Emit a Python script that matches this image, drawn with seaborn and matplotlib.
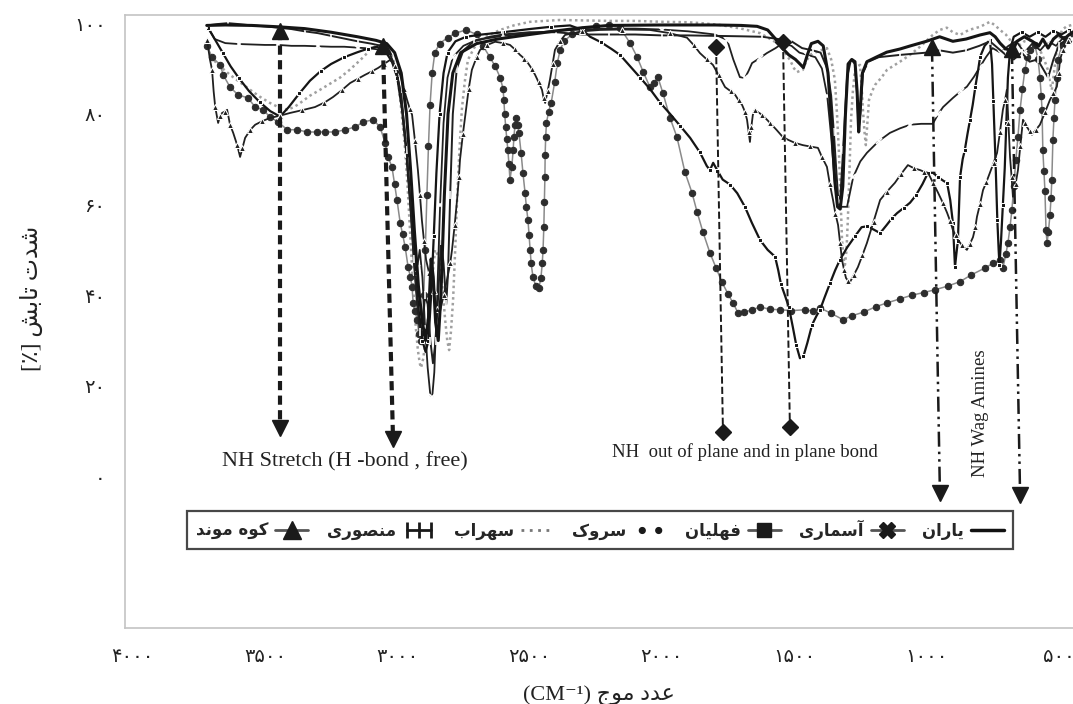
import matplotlib
matplotlib.use("Agg")
import matplotlib.pyplot as plt
import seaborn as sns
import pandas as pd
from matplotlib.lines import Line2D
from matplotlib.legend_handler import HandlerLine2D

# ---------------- data (wavenumber cm-1, transmittance %) ----------------
yaran = [(3720,99.5),(3650,99.6),(3550,99.5),(3450,99.2),(3350,98.8),(3250,98),(3150,97),(3080,96.2),(3040,95.5),(3010,93.5),(2985,89),(2965,80),(2950,68),(2935,54),(2920,42),(2905,34),(2893,30),(2882,35),(2872,48),(2864,44),(2855,34),(2845,30),(2835,40),(2822,62),(2808,80),(2790,89),(2760,93.5),(2700,95.5),(2620,96.5),(2500,97.5),(2400,98.3),(2300,99),(2200,99.5),(2000,99.6),(1800,99.6),(1700,99.5),(1640,99.3),(1600,98.5),(1570,96.5),(1545,94.5),(1520,93),(1495,92),(1478,91),(1465,90.2),(1450,93),(1435,95.5),(1410,96),(1390,95),(1372,89),(1358,77),(1346,65),(1336,59.5),(1326,59),(1316,64),(1306,80),(1296,91),(1282,92),(1270,91.5),(1262,85),(1256,76),(1250,81),(1242,89),(1225,91.5),(1190,92.5),(1150,93.6),(1100,94.3),(1060,95),(1000,96),(950,97),(900,96),(850,96.5),(797,97.4),(760,97.9),(740,97),(722,95.6),(700,94.3),(673,94),(658,96),(630,97),(600,96),(575,95),(560,96.5),(540,94.5),(520,96.5),(500,97.5),(480,96.5),(460,97.5),(447,98)]

asmari = [(3715,99),(3690,96.5),(3650,95.6),(3600,95.4),(3550,95.3),(3500,95.2),(3450,95.2),(3400,95),(3350,95),(3300,94.9),(3250,94.8),(3200,94.8),(3150,94.6),(3100,94.4),(3070,94.2),(3030,93),(3005,90),(2985,84),(2968,74),(2952,62),(2938,52),(2925,46),(2915,50),(2905,44),(2895,33),(2885,24),(2875,18),(2868,17.5),(2860,23),(2850,38),(2838,60),(2825,78),(2810,88),(2790,92.5),(2750,95),(2700,96.3),(2600,97.2),(2500,97.8),(2400,98.3),(2300,98.6),(2200,98.8),(2100,98.8),(2000,98.6),(1900,98.2),(1800,97.5),(1753,96.3),(1730,92),(1705,88.1),(1686,87.9),(1672,89.5),(1659,91.2),(1630,92.3),(1603,93.4),(1570,94.5),(1543,95.6),(1510,95),(1480,93.5),(1450,93),(1420,92.5),(1395,90),(1375,84),(1360,75),(1348,66),(1338,61),(1325,59.5),(1300,59.5),(1277,66),(1250,69.5),(1225,71.4),(1180,74),(1138,75.8),(1100,76.8),(1062,77.6),(1020,77.8),(976,77.8),(955,80),(937,81.5),(900,83.5),(870,85),(847,86),(820,88.2),(797,90.4),(775,92.5),(750,94.5),(720,93.5),(690,95),(660,96),(630,93.5),(600,95.5),(570,94),(540,96),(510,95),(480,97),(450,96.5)]

fahlian = [(3715,99),(3690,96.5),(3660,93.5),(3630,90.5),(3600,88),(3560,85),(3520,82.6),(3480,80.6),(3443,79.4),(3410,81.5),(3370,84.5),(3330,87.3),(3290,89.4),(3250,91),(3200,92.5),(3150,93.6),(3110,94.4),(3076,94.8),(3045,93.8),(3020,91.5),(3000,88),(2982,81),(2965,71),(2948,58),(2932,45),(2918,36),(2905,30),(2893,27.5),(2882,30),(2872,40),(2862,53),(2852,67),(2840,80),(2825,89),(2810,93.5),(2780,96),(2740,97),(2680,97.5),(2600,98),(2500,98.7),(2420,99.2),(2347,99.5),(2300,98.5),(2271,97),(2230,95.8),(2190,94.3),(2158,93),(2120,90.5),(2082,88),(2045,85.5),(2007,82.5),(1969,80),(1930,77.3),(1893,74.7),(1856,71.5),(1830,68.5),(1818,67.6),(1806,69.2),(1790,67.5),(1770,65.5),(1742,64.4),(1715,62.5),(1686,59.5),(1660,56),(1629,52.2),(1600,50),(1572,48.5),(1560,45.5),(1550,42.5),(1535,40),(1520,37.4),(1505,33),(1492,29),(1478,26.1),(1465,26.5),(1450,29.5),(1432,33.5),(1415,35.5),(1402,36.8),(1385,39.5),(1364,42.7),(1345,45.5),(1327,47.8),(1300,50.5),(1270,53),(1245,55),(1225,55.2),(1200,54.5),(1175,53.7),(1150,55.5),(1130,57),(1111,58.1),(1085,59.3),(1062,60.4),(1040,62),(1015,64.5),(994,67),(975,67),(955,66),(935,65.2),(922,64.8),(910,61),(900,56),(895,50),(892,46.2),(887,49),(881,52),(877,59),(873,66),(863,70),(855,72),(845,75.5),(835,78.7),(825,82),(815,86),(805,89.5),(797,92.6),(780,95),(760,96.3),(752,91),(747,82.8),(743,76),(739,69.8),(735,62),(732,56.6),(727,50),(724,46.7),(718,52),(711,60),(704,68),(698,78),(692,88),(684,94),(670,97),(640,98),(610,97),(580,98),(550,97),(520,98.3),(490,97.5),(460,98.5),(447,98)]

sarvak = [(3719,95),(3700,92.5),(3669,90.8),(3658,88.6),(3632,85.9),(3602,84.2),(3564,83.5),(3537,81.5),(3507,80.9),(3481,79.3),(3450,78.2),(3416,76.5),(3379,76.5),(3341,76),(3303,76),(3273,76),(3235,76),(3197,76.5),(3159,77.1),(3129,78.2),(3091,78.7),(3065,77.1),(3046,73.6),(3035,70.5),(3020,68.3),(3010,64.5),(3001,61),(2989,56),(2980,53.5),(2970,50.6),(2959,46.2),(2950,44),(2944,41.8),(2940,38.3),(2932,36.5),(2925,34.6),(2918,31.5),(2912,30),(2906,32),(2900,40),(2894,50),(2888,62),(2882,73),(2876,82),(2868,89),(2858,93.5),(2840,95.5),(2810,96.8),(2780,97.8),(2740,98.5),(2700,97.5),(2676,95),(2650,92.5),(2630,90.5),(2611,88),(2600,85.5),(2597,83),(2594,80),(2590,77),(2586,74.5),(2582,72),(2578,69),(2574,65.5),(2567,68.3),(2562,72),(2559,75),(2555,77.5),(2551,79),(2545,77.5),(2540,75.7),(2532,71.4),(2525,67),(2517,62.6),(2512,59.5),(2506,56.6),(2502,53.3),(2498,50),(2494,47),(2487,44),(2476,42),(2465,41.5),(2457,43.8),(2452,47),(2449,50),(2446,55),(2444,60.5),(2442,66),(2441,71),(2439,75),(2436,78),(2428,80.5),(2418,82.5),(2405,87),(2395,91.2),(2385,94),(2370,96),(2340,97.5),(2300,98.5),(2250,99.3),(2200,99.5),(2158,99),(2120,95.6),(2094,92.6),(2070,89.2),(2045,85.9),(2028,86.8),(2015,88.1),(1996,84.6),(1969,79.1),(1943,74.9),(1913,67.2),(1886,62.6),(1867,58.4),(1845,54),(1818,49.3),(1795,46),(1773,42.9),(1750,40.3),(1731,38.3),(1712,36.1),(1690,36.2),(1660,36.8),(1629,37.4),(1590,36.9),(1553,36.8),(1510,36.6),(1459,36.8),(1430,36.5),(1402,37.2),(1360,36),(1315,34.6),(1280,35.5),(1236,36.3),(1190,37.5),(1149,38.3),(1100,39.2),(1055,40),(1010,40.6),(968,41.2),(920,42),(873,43),(830,44.5),(779,46),(750,47),(722,47.8),(711,46),(700,49),(692,51.5),(684,55),(677,58.8),(670,64),(662,69.8),(654,75),(646,80.9),(637,85.5),(628,89.7),(618,92.5),(609,94.1),(590,95.2),(578,92),(571,88),(566,84),(563,80.9),(560,72),(556,67.5),(552,63),(548,54.4),(544,51.5),(539,54),(533,57.7),(529,61.5),(526,65.4),(522,74.3),(518,79),(514,83.1),(508,88),(503,91.9),(488,95.2),(465,96.3),(450,97.4)]

sohrab = [(3707,92.6),(3670,90.5),(3632,88.6),(3595,87),(3556,85.3),(3520,83.8),(3481,82.4),(3450,81.5),(3416,80.9),(3390,81.5),(3367,82.4),(3330,84),(3292,85.3),(3250,86.8),(3216,88),(3180,89.7),(3152,91.2),(3125,92.7),(3103,94.1),(3080,95),(3065,95.2),(3045,94.8),(3027,93.7),(3010,91),(2997,87.5),(2983,80),(2970,72),(2960,63),(2952,54.4),(2944,46),(2937,39),(2930,33),(2922,27.9),(2915,25),(2910,24),(2902,26),(2895,29),(2885,34),(2876,39),(2866,45),(2857,50),(2848,49),(2838,47.8),(2828,41),(2819,34.6),(2811,30),(2804,27.9),(2797,32),(2789,39),(2781,50),(2774,61),(2765,72),(2756,80.9),(2745,87),(2733,91.9),(2710,94.5),(2687,96.3),(2650,97.5),(2611,98.5),(2560,99.5),(2498,100.3),(2440,100.5),(2385,100.7),(2300,100.6),(2200,100.5),(2100,100.5),(2000,100.3),(1900,100.2),(1850,100),(1780,99.6),(1700,98.8),(1629,97.8),(1590,96.5),(1553,95.2),(1535,93.5),(1516,91.9),(1500,90),(1489,89.2),(1478,89.5),(1467,89.7),(1455,91.5),(1440,93),(1410,93.8),(1376,94.5),(1360,92),(1346,87.5),(1338,80),(1331,72),(1325,62),(1319,52.2),(1313,48),(1308,46.7),(1302,50),(1297,56.6),(1291,67),(1285,78.7),(1278,85),(1270,89.7),(1260,90.5),(1251,90.8),(1245,86),(1240,80.9),(1234,76),(1229,73.1),(1223,78),(1217,83.1),(1205,85),(1194,86.4),(1170,88),(1149,89.7),(1100,91.5),(1062,93),(1020,95),(976,97.4),(950,98.5),(923,99),(900,98),(873,97.4),(840,98.5),(797,99.2),(760,100.3),(740,99.5),(722,98.5),(700,97.5),(684,96.3),(660,95.5),(646,95.2),(630,96),(609,96.3),(590,95.5),(571,94.1),(555,92),(541,89.7),(533,87),(526,85.3),(518,89),(510,93),(500,96),(488,98.5),(470,99.3),(450,99.6)]

mansouri = [(3719,99.5),(3680,99.8),(3640,100),(3600,99.8),(3550,99.5),(3500,99.3),(3450,99),(3400,98.7),(3350,98.2),(3300,97.8),(3250,97.2),(3200,96.6),(3150,96),(3100,95.5),(3060,95),(3030,93.5),(3005,90),(2985,84),(2965,72),(2950,60),(2938,48),(2925,38),(2915,32),(2905,33),(2895,40),(2885,38),(2875,30),(2865,25),(2855,30),(2845,40),(2835,52),(2825,47),(2815,38),(2808,45),(2800,62),(2790,80),(2775,90),(2750,94),(2710,96),(2650,97),(2600,97.5),(2500,98),(2400,98),(2300,97.5),(2200,97.5),(2100,97.5),(2000,97.3),(1900,97.3),(1800,97.2),(1700,97.1),(1620,97),(1560,96.5),(1510,96),(1470,94.5),(1430,94),(1400,93.5),(1375,90),(1360,84),(1350,76),(1340,67),(1333,61),(1325,62),(1315,72),(1300,88),(1285,92),(1270,91),(1262,84),(1256,76.5),(1250,80),(1240,89),(1220,91.5),(1180,92.5),(1100,93),(1000,93.5),(950,94),(900,93.5),(850,94),(800,95),(760,96),(730,94.5),(700,93),(670,92),(640,93.5),(610,91.5),(580,92),(560,90),(540,88),(520,92),(500,95),(480,96),(460,97.5),(450,98)]

kuhmond = [(3719,96.3),(3708,92),(3700,89.7),(3694,85),(3688,81.5),(3677,78),(3670,79.5),(3662,80.2),(3652,80.5),(3643,80.9),(3632,77.6),(3620,75.8),(3605,73.1),(3594,70.5),(3585,72.5),(3575,74.7),(3555,76.5),(3537,77.6),(3510,78.4),(3481,79.1),(3443,79.6),(3405,80.2),(3360,80.8),(3311,81.5),(3275,82.5),(3243,83.7),(3210,85.2),(3178,86.8),(3150,87.7),(3122,88.6),(3095,89.4),(3073,90.1),(3050,91),(3027,91.9),(3008,90.5),(2989,88.6),(2975,85.5),(2963,83.1),(2952,81),(2944,79.8),(2933,74),(2922,67.6),(2914,62),(2907,56.6),(2899,52),(2891,47.8),(2880,45),(2869,43.4),(2862,41),(2857,39),(2848,37),(2838,36.5),(2825,40),(2812,43.4),(2800,47),(2793,50),(2783,55.5),(2774,61),(2767,66),(2763,69.8),(2752,75.5),(2740,80.9),(2730,85.5),(2718,89.7),(2700,92.5),(2687,94.1),(2660,95.2),(2630,95.9),(2600,95.6),(2574,95.2),(2555,94.2),(2536,93),(2520,92.2),(2506,91.2),(2492,90),(2479,88.6),(2466,87),(2453,85.3),(2447,83.5),(2441,82.4),(2432,85),(2423,87.5),(2413,91),(2404,94.1),(2385,96),(2366,97.4),(2300,98.2),(2234,98.5),(2150,98.6),(2045,98.5),(1970,97.8),(1905,96.8),(1880,95.2),(1856,93.4),(1830,92),(1807,90.8),(1785,88.5),(1761,85.9),(1740,85),(1723,84.2),(1710,83),(1697,82),(1686,80.5),(1678,78.7),(1672,76),(1667,73.8),(1662,77),(1656,79.8),(1648,80.9),(1635,80.3),(1621,79.8),(1606,78.9),(1591,78),(1567,76.5),(1543,74.9),(1520,74.2),(1497,73.6),(1467,73.1),(1440,72.8),(1410,72.5),(1395,70.5),(1376,68.3),(1365,64.5),(1353,61),(1344,58),(1334,55.5),(1326,51.5),(1319,47.8),(1311,45.5),(1304,43.8),(1296,43.2),(1289,42.9),(1274,44.5),(1259,46.2),(1242,48.8),(1225,51.5),(1200,56.2),(1175,61),(1150,62.8),(1119,64.8),(1095,66.8),(1070,68.7),(1047,68),(1024,67.6),(1008,67.2),(994,67),(975,64.8),(956,62.6),(938,60.4),(922,58.2),(910,56.3),(900,54.4),(890,53.3),(881,52.2),(865,51),(847,50),(835,51.4),(824,52.8),(815,55),(809,57.3),(797,60.2),(786,63.2),(773,65),(760,67),(746,69.2),(733,71.4),(722,76),(711,80.9),(703,83),(696,85.3),(690,78),(684,70.5),(678,66),(673,61.7),(663,64.5),(654,67.6),(645,73),(635,78.7),(627,78),(620,77.1),(610,76.2),(601,75.4),(586,76.5),(571,77.6),(552,80.3),(533,83.1),(520,84.5),(507,86),(500,89),(495,91.9),(485,94),(477,95.6),(465,96),(458,96.3)]

series_names = ["یاران", "آسماری", "فهلیان", "سروک", "سهراب", "منصوری", "کوه موند"]
x_ticks = [4000, 3500, 3000, 2500, 2000, 1500, 1000, 500]
y_ticks = [0, 20, 40, 60, 80, 100]

# ---------------- Persian text helpers (shaping + visual order) ----------------
FORMS = {
    'ا': ('\uFE8D', '\uFE8E', None, None), 'آ': ('\uFE81', '\uFE82', None, None),
    'ب': ('\uFE8F', '\uFE90', '\uFE91', '\uFE92'), 'ت': ('\uFE95', '\uFE96', '\uFE97', '\uFE98'),
    'ج': ('\uFE9D', '\uFE9E', '\uFE9F', '\uFEA0'), 'د': ('\uFEA9', '\uFEAA', None, None),
    'ر': ('\uFEAD', '\uFEAE', None, None), 'س': ('\uFEB1', '\uFEB2', '\uFEB3', '\uFEB4'),
    'ش': ('\uFEB5', '\uFEB6', '\uFEB7', '\uFEB8'), 'ص': ('\uFEB9', '\uFEBA', '\uFEBB', '\uFEBC'),
    'ع': ('\uFEC9', '\uFECA', '\uFECB', '\uFECC'), 'ف': ('\uFED1', '\uFED2', '\uFED3', '\uFED4'),
    'ل': ('\uFEDD', '\uFEDE', '\uFEDF', '\uFEE0'), 'م': ('\uFEE1', '\uFEE2', '\uFEE3', '\uFEE4'),
    'ن': ('\uFEE5', '\uFEE6', '\uFEE7', '\uFEE8'), 'ه': ('\uFEE9', '\uFEEA', '\uFEEB', '\uFEEC'),
    'و': ('\uFEED', '\uFEEE', None, None), 'ی': ('\uFBFC', '\uFBFD', '\uFBFE', '\uFBFF'),
    'ک': ('\uFB8E', '\uFB8F', '\uFB90', '\uFB91'),
}

def fa(text):
    def dual(c):
        return c in FORMS and FORMS[c][2] is not None
    out = []
    for i, c in enumerate(text):
        if c not in FORMS:
            out.append(c)
            continue
        prev = text[i - 1] if i > 0 else None
        nxt = text[i + 1] if i + 1 < len(text) else None
        jp = prev is not None and dual(prev)
        jn = dual(c) and nxt is not None and nxt in FORMS
        iso, fin, ini, med = FORMS[c]
        if jp and jn:
            out.append(med)
        elif jp:
            out.append(fin)
        elif jn:
            out.append(ini)
        else:
            out.append(iso)
    return ''.join(out)[::-1]

PDIG = str.maketrans('0123456789', '۰۱۲۳۴۵۶۷۸۹')

# ---------------- style ----------------
sns.set_theme(style="white")
plt.rcParams['font.family'] = ['DejaVu Sans']
SERIF = ['Liberation Serif', 'DejaVu Sans']

fig = plt.figure(figsize=(10.73, 7.04), dpi=100)
ax = fig.add_axes([125 / 1073, 1 - 627.6 / 704, (1073 - 125) / 1073, (627.6 - 15) / 704])

styles = [
    dict(color='#151515', lw=2.2, zorder=5),
    dict(color='#202020', lw=1.3, marker='x', markersize=5, markeredgewidth=1.3, markevery=3, zorder=4),
    dict(color='#151515', lw=1.6, marker='s', markersize=3, markevery=2, zorder=4),
    dict(color='#8a8a8a', lw=1.1, marker='o', markersize=4.6, markerfacecolor='#2d2d2d',
         markeredgecolor='#2d2d2d', zorder=3),
    dict(color='#a0a0a0', lw=1.8, linestyle=(0, (1, 1.3)), zorder=2),
    dict(color='#202020', lw=1.4, marker='|', markersize=6, markeredgewidth=1.2, markevery=2, zorder=4),
    dict(color='#202020', lw=1.3, marker='^', markersize=5, markevery=2, zorder=4),
]

all_series = [yaran, asmari, fahlian, sarvak, sohrab, mansouri, kuhmond]
for name, data, st in zip(series_names, all_series, styles):
    df = pd.DataFrame(data, columns=['wavenumber', 'T'])
    sns.lineplot(data=df, x='wavenumber', y='T', ax=ax, sort=False, estimator=None, **st)

# ---------------- annotation arrows ----------------
def vline(x0, y0, x1, y1, ls, lw, top, bot, ms):
    ax.plot([x0, x1], [y0, y1], color='k', ls=ls, lw=lw, zorder=6)
    ax.plot([x0], [y0], marker=top, color='k', markersize=ms, zorder=7, linestyle='none')
    ax.plot([x1], [y1], marker=bot, color='k', markersize=ms, zorder=7, linestyle='none')

thick = (0, (2.2, 1.3))
vline(3443, 98.3, 3443, 10.8, thick, 3.0, '^', 'v', 11)
vline(3054, 95.0, 3016, 8.3, thick, 3.0, '^', 'v', 11)
vline(1795, 94.8, 1769, 9.9, '--', 1.4, 'D', 'D', 8)
vline(1542, 95.9, 1516, 11.0, '--', 1.4, 'D', 'D', 8)
ddot = (0, (6, 2, 1, 2, 1, 2))
vline(979, 94.8, 949, -3.6, ddot, 1.8, '^', 'v', 11)
vline(677, 94.3, 646, -4.0, ddot, 1.8, '^', 'v', 11)

ax.text(3662, 3.2, "NH Stretch (H -bond , free)", family=SERIF, fontsize=16,
        ha='left', va='center', color='#222')
ax.text(2188, 5.4, "NH  out of plane and in plane bond", family=SERIF, fontsize=13.5,
        ha='left', va='center', color='#222')
ax.text(797, 14.0, "NH Wag Amines", family=SERIF, fontsize=13.5, rotation=90,
        ha='center', va='center', color='#222')

# ---------------- axes ----------------
ax.set_xlim(4029, 446)
ax.set_ylim(-33.3, 101.8)
ax.set_xticks(x_ticks)
ax.set_xticklabels([str(v).translate(PDIG) for v in x_ticks], fontsize=14)
ax.set_yticks(y_ticks)
ax.set_yticklabels([str(v).translate(PDIG) for v in y_ticks], fontsize=14)
ax.tick_params(axis='both', direction='out', length=8, width=1, color='#b5b5b5', pad=6,
               labelcolor='#222')
for s in ['left', 'bottom', 'top']:
    ax.spines[s].set_color('#c4c4c4')
    ax.spines[s].set_linewidth(1.2)
ax.spines['right'].set_visible(False)
ax.grid(False)

ax.set_xlabel("(CM⁻¹) " + fa("عدد موج"), family=SERIF, fontsize=16, labelpad=14, color='#222')
ax.set_ylabel("[٪] " + fa("شدت تابش"), family=SERIF, fontsize=17, color='#222')
ax.yaxis.set_label_coords(-0.087, 0.538)

# ---------------- legend (right-to-left) ----------------
h_yaran = Line2D([], [], color='#111', lw=2.5)
h_asmari = Line2D([], [], color='#555', lw=2, marker='X', markersize=12, markerfacecolor='k', markeredgecolor='k')
h_fahlian = Line2D([], [], color='#555', lw=2, marker='s', markersize=10, markerfacecolor='k', markeredgecolor='k')
h_sarvak = Line2D([], [], color='none', lw=0, marker=r'$\bullet\bullet$', markersize=16,
                  markerfacecolor='k', markeredgecolor='k')
h_sohrab = Line2D([], [], color='#777', lw=2, linestyle=(0, (1, 2)))
h_mansouri = Line2D([], [], color='k', lw=2, marker='|', markersize=11, markeredgewidth=2)
h_kuh = Line2D([], [], color='#555', lw=2, marker='^', markersize=13, markerfacecolor='k', markeredgecolor='k')
handles = [h_kuh, h_mansouri, h_sohrab, h_sarvak, h_fahlian, h_asmari, h_yaran]
labels = [fa(n) for n in series_names[::-1]]
leg = ax.legend(handles, labels, loc='center', bbox_to_anchor=(0.501, 0.159), ncol=7,
                markerfirst=False, frameon=True, fancybox=False, numpoints=1,
                handlelength=2.0, handletextpad=0.4, columnspacing=1.1, borderpad=0.55,
                borderaxespad=0,
                prop={'weight': 'bold', 'size': 12, 'family': 'DejaVu Sans'},
                handler_map={h_mansouri: HandlerLine2D(numpoints=3)})
leg.get_frame().set_edgecolor('k')
leg.get_frame().set_linewidth(1.6)
leg.get_frame().set_facecolor('white')
leg.set_zorder(10)

fig.savefig("out.png", dpi=100)
